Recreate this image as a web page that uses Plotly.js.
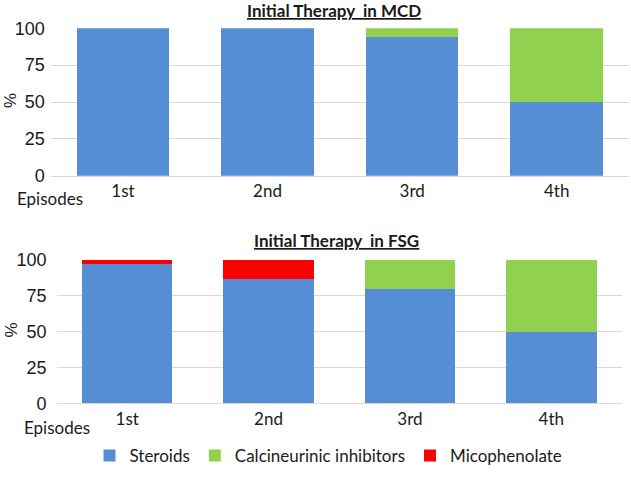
<!DOCTYPE html>
<html>
<head>
<meta charset="utf-8">
<script src="https://cdn.plot.ly/plotly-3.0.1.min.js"></script>
<style>html,body{margin:0;padding:0;background:#fff;}#chart{width:631px;height:495px;}</style>
</head>
<body>
<div id="chart"></div>
<script>
const episodes = ['1st', '2nd', '3rd', '4th'];
const seriesNames = ['Steroids', 'Calcineurinic inhibitors', 'Micophenolate'];
const mcdSteroids = [100, 100, 94, 50];
const mcdCalcineurin = [0, 0, 6, 50];
const mcdMicophenolate = [0, 0, 0, 0];
const fsgSteroids = [97, 87, 80, 50];
const fsgCalcineurin = [0, 0, 20, 50];
const fsgMicophenolate = [3, 13, 0, 0];
const yTicks = [0, 25, 50, 75, 100];
const titleMCD = 'Initial Therapy&nbsp; in MCD';
const titleFSG = 'Initial Therapy&nbsp; in FSG';

const colors = ['#558ED5', '#92D050', '#FF0000'];
const calibri = 'Lato, "Open Sans", sans-serif';
const arial = '"Liberation Sans", Arial, sans-serif';
const textColor = '#1a1a1a';

function bar(y, name, idx, xa, ya, showlegend) {
  return {type: 'bar', x: episodes, y: y, name: name, xaxis: xa, yaxis: ya,
    marker: {color: colors[idx], line: {width: 0}}, showlegend: showlegend,
    legendrank: idx, hoverinfo: 'skip'};
}

const data = [
  bar(mcdSteroids, seriesNames[0], 0, 'x', 'y', true),
  bar(mcdCalcineurin, seriesNames[1], 1, 'x', 'y', true),
  bar(mcdMicophenolate, seriesNames[2], 2, 'x', 'y', true),
  bar(fsgSteroids, seriesNames[0], 0, 'x2', 'y2', false),
  bar(fsgCalcineurin, seriesNames[1], 1, 'x2', 'y2', false),
  bar(fsgMicophenolate, seriesNames[2], 2, 'x2', 'y2', false)
];

const W = 631, H = 495;
const yaxisBase = {range: [0, 100], tickvals: yTicks, showgrid: true, gridcolor: '#D9D9D9', gridwidth: 1,
  zeroline: false, showline: false, ticks: '', fixedrange: true,
  tickfont: {family: arial, size: 18, color: textColor}};
const xaxisBase = {type: 'category', showgrid: false, zeroline: false, showline: true, linecolor: '#D9D9D9', linewidth: 1,
  ticks: '', tickfont: {family: calibri, size: 17, color: textColor}, fixedrange: true};

const layout = {
  width: W, height: H,
  margin: {l: 0, r: 0, t: 0, b: 0},
  paper_bgcolor: '#fff', plot_bgcolor: '#fff',
  barmode: 'stack', bargap: 0.36,
  showlegend: true,
  legend: {orientation: 'h', x: 328.5 / W, xanchor: 'center', y: 1 - 456 / H, yanchor: 'middle',
    font: {family: calibri, size: 17, color: textColor}, traceorder: 'normal', itemclick: false},
  xaxis: Object.assign({}, xaxisBase, {domain: [50.7 / W, 629 / W], anchor: 'y'}),
  yaxis: Object.assign({}, yaxisBase, {domain: [1 - 175.7 / H, 1 - 28.3 / H], anchor: 'x', ticklabelstandoff: 5}),
  xaxis2: Object.assign({}, xaxisBase, {domain: [56.5 / W, 622 / W], anchor: 'y2'}),
  yaxis2: Object.assign({}, yaxisBase, {domain: [1 - 403.3 / H, 1 - 260 / H], anchor: 'x2', ticklabelstandoff: 9}),
  annotations: [
    {text: '<b><u>' + titleMCD + '</u></b>', xref: 'paper', yref: 'paper', x: 334 / W, y: 1 - 10 / H,
      xanchor: 'center', yanchor: 'middle', showarrow: false, font: {family: calibri, size: 17, color: textColor}},
    {text: '<b><u>' + titleFSG + '</u></b>', xref: 'paper', yref: 'paper', x: 336 / W, y: 1 - 240 / H,
      xanchor: 'center', yanchor: 'middle', showarrow: false, font: {family: calibri, size: 17, color: textColor}},
    {text: '%', xref: 'paper', yref: 'paper', x: 0, y: 1 - 100.5 / H, textangle: -90, borderpad: 0,
      xanchor: 'left', yanchor: 'middle', showarrow: false, font: {family: arial, size: 17, color: textColor}},
    {text: '%', xref: 'paper', yref: 'paper', x: 0, y: 1 - 330 / H, textangle: -90, borderpad: 0,
      xanchor: 'left', yanchor: 'middle', showarrow: false, font: {family: arial, size: 17, color: textColor}},
    {text: 'Episodes', xref: 'paper', yref: 'paper', x: 50 / W, y: 1 - 199 / H,
      xanchor: 'center', yanchor: 'middle', showarrow: false, font: {family: calibri, size: 17, color: textColor}},
    {text: 'Episodes', xref: 'paper', yref: 'paper', x: 57 / W, y: 1 - 427 / H,
      xanchor: 'center', yanchor: 'middle', showarrow: false, font: {family: calibri, size: 17, color: textColor}}
  ]
};

Plotly.newPlot('chart', data, layout, {staticPlot: true, displayModeBar: false});
</script>
</body>
</html>
